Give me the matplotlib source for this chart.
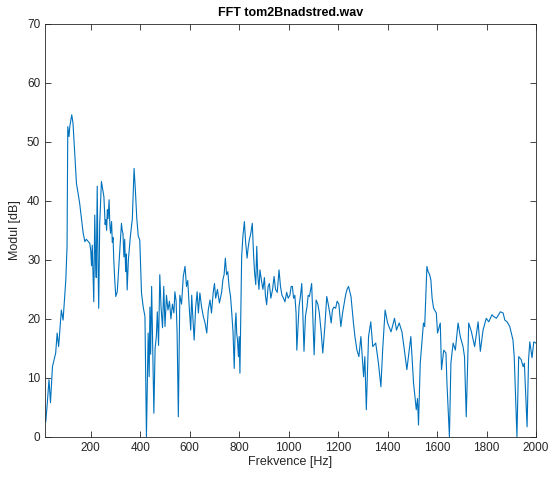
import matplotlib
matplotlib.use("Agg")
from matplotlib import pyplot as plt

# spectrum, as (Hz, dB) pairs per band
band_low = [(18, 2.6), (23, 5.1), (31, 9.7), (37, 5.8), (45, 11.9), (58, 14.2), (64, 17.6),
            (70, 15.3), (81, 21.5), (88, 19.8), (99, 26.6), (104, 32.3), (107, 52.6),
            (112, 50.9), (115, 52.6), (123, 54.6), (128, 53.2), (142, 43.0), (155, 39.6),
            (169, 34.6), (176, 33.1), (182, 33.5), (196, 32.8), (200, 31.5), (203, 29.0),
            (206, 32.5), (209, 28.0), (212, 22.9), (214, 30.0), (216, 37.6), (219, 31.0),
            (222, 27.0), (226, 42.5), (229, 30.0), (232, 21.8), (236, 36.0), (243, 43.3),
            (253, 40.7), (258, 36.0), (261, 36.8), (264, 35.0), (267, 38.5), (270, 37.0),
            (274, 40.2), (277, 36.0), (280, 34.5), (284, 36.5), (287, 33.0), (290, 33.8),
            (293, 30.0), (297, 26.5), (301, 23.8), (307, 24.6), (315, 30.0), (324, 36.2),
            (327, 35.0), (330, 34.5), (334, 30.5), (337, 33.5), (341, 28.0), (344, 31.0),
            (347, 24.9), (352, 30.0), (360, 34.0), (368, 37.0), (375, 45.5), (380, 42.0),
            (386, 37.0), (392, 34.0), (398, 33.4), (405, 24.4), (412, 22.0), (419, 20.4),
            (425, 0.0), (432, 17.6), (436, 10.2), (439, 22.0), (442, 14.0), (446, 25.5),
            (450, 16.0), (455, 4.0), (460, 15.0), (465, 17.0), (469, 21.2), (474, 15.5),
            (479, 27.5), (484, 22.0), (490, 18.5), (495, 25.5), (500, 18.7), (506, 24.0),
            (512, 21.5), (518, 23.0), (524, 20.0), (530, 22.5), (536, 21.0), (540, 24.6),
            (545, 23.0), (549, 17.5), (554, 3.4), (560, 24.0), (567, 22.5), (574, 27.2),
            (581, 28.9), (587, 25.5), (592, 26.5), (598, 22.0), (604, 18.1), (608, 24.0),
            (613, 20.0), (618, 16.4), (624, 22.0), (630, 24.6), (635, 21.0), (641, 24.4),
            (648, 22.0), (655, 20.4), (662, 19.3), (669, 17.6), (675, 21.5), (682, 23.2),
            (688, 21.0), (695, 24.5), (700, 26.0), (705, 23.5), (712, 25.0), (720, 22.7),
            (729, 24.5), (734, 26.6), (739, 27.5), (744, 30.3), (749, 27.5), (754, 28.0),
            (759, 25.5), (765, 23.8), (770, 21.0), (775, 17.8), (780, 11.6), (784, 19.0),
            (787, 21.0), (790, 17.5), (793, 16.5), (797, 13.6), (800, 17.0), (803, 10.8)]
band_mid = [(810, 30.6), (815, 34.0), (821, 36.5), (826, 33.0), (832, 30.3), (836, 32.0),
            (841, 33.4), (847, 34.5), (853, 36.2), (858, 31.0), (862, 28.0), (867, 25.8),
            (871, 32.3), (875, 27.5), (880, 25.0), (884, 28.3), (890, 26.5), (896, 25.0),
            (902, 27.0), (906, 24.0), (911, 22.4), (917, 25.5), (922, 26.0), (928, 23.5),
            (935, 25.0), (941, 27.2), (947, 25.0), (954, 24.5), (961, 28.3), (967, 25.5),
            (973, 24.0), (979, 23.5), (985, 22.9), (992, 24.5), (998, 23.5), (1005, 24.0),
            (1010, 25.5), (1015, 25.5), (1020, 23.5), (1025, 24.0), (1030, 21.0),
            (1033, 14.7), (1038, 19.0), (1042, 22.1), (1048, 24.0), (1053, 26.0),
            (1058, 20.0), (1062, 14.5), (1068, 20.5), (1074, 22.0), (1079, 24.0),
            (1084, 23.8), (1089, 25.0), (1093, 26.0), (1098, 20.0), (1103, 13.9),
            (1107, 19.0), (1111, 23.2), (1118, 22.5), (1124, 21.0), (1131, 18.0),
            (1138, 14.2), (1146, 18.5), (1154, 23.8), (1160, 22.5), (1166, 21.0),
            (1172, 19.3), (1177, 21.5), (1183, 22.0), (1190, 21.8), (1196, 23.0),
            (1203, 22.5), (1211, 18.7), (1218, 21.0), (1224, 22.5), (1230, 24.0),
            (1236, 25.0), (1242, 25.5), (1252, 23.8), (1262, 19.3), (1268, 17.0),
            (1276, 14.7), (1284, 13.6), (1292, 17.0), (1303, 10.2), (1308, 13.6),
            (1314, 4.6), (1323, 17.0), (1332, 19.5), (1340, 15.3), (1352, 15.9),
            (1363, 12.5), (1373, 8.5), (1380, 14.7), (1390, 21.5), (1400, 19.3),
            (1414, 17.8), (1428, 20.1), (1436, 18.1), (1447, 19.3), (1458, 17.8),
            (1467, 15.0), (1478, 11.4), (1494, 17.0), (1505, 9.1), (1516, 4.6),
            (1521, 6.5), (1525, 2.0)]
band_high = [(1532, 12.5), (1545, 19.3), (1550, 18.7), (1559, 28.9), (1564, 28.0),
             (1570, 27.5), (1575, 26.6), (1580, 23.5), (1586, 21.8), (1597, 21.0),
             (1602, 17.6), (1613, 19.3), (1618, 11.4), (1627, 14.7), (1636, 14.2),
             (1640, 9.1), (1650, 0.0), (1656, 12.5), (1665, 15.9), (1674, 14.7),
             (1685, 19.3), (1694, 17.0), (1705, 15.3), (1711, 13.6), (1718, 3.4),
             (1728, 19.3), (1739, 17.8), (1752, 15.3), (1766, 19.5), (1775, 14.5),
             (1786, 18.1), (1799, 20.1), (1809, 19.5), (1822, 20.7), (1829, 20.4),
             (1840, 20.1), (1856, 21.2), (1867, 21.0), (1874, 19.8), (1883, 19.5),
             (1894, 18.7), (1907, 16.4), (1912, 13.6), (1923, 0.0), (1930, 13.6),
             (1940, 13.1), (1948, 11.9), (1953, 12.5), (1964, 1.7), (1970, 13.1),
             (1975, 16.1), (1984, 13.4), (1991, 16.1), (2000, 15.9)]

points = band_low + band_mid + band_high
freq_hz = [p[0] for p in points]
modul_db = [p[1] for p in points]

fig = plt.figure(figsize=(5.56, 4.79), dpi=100)
ax = fig.add_axes([0.081, 0.088, 0.883, 0.862])
ax.plot(freq_hz, modul_db, color="#0072BD", linewidth=0.8)

ax.set_xlim(15, 2000)
ax.set_ylim(0, 70)
ax.set_xticks(range(200, 2001, 200))
ax.set_yticks(range(0, 71, 10))

ax.set_title("FFT tom2Bnadstred.wav", fontsize=9, fontweight="bold",
             family="Liberation Sans", color="#000000", pad=6)
ax.set_xlabel("Frekvence [Hz]", fontsize=9, family="Liberation Sans", color="#262626",
              labelpad=2)
ax.set_ylabel("Modul [dB]", fontsize=9, family="Liberation Sans", color="#262626")

for lbl in ax.get_xticklabels() + ax.get_yticklabels():
    lbl.set_family("Liberation Sans")
    lbl.set_fontsize(8.5)
ax.tick_params(direction="in", top=True, right=True, length=4, width=0.6,
               colors="#262626", labelcolor="#262626")
for side in ax.spines.values():
    side.set_color("#262626")
    side.set_linewidth(0.6)

plt.savefig("out.png", dpi=100)
